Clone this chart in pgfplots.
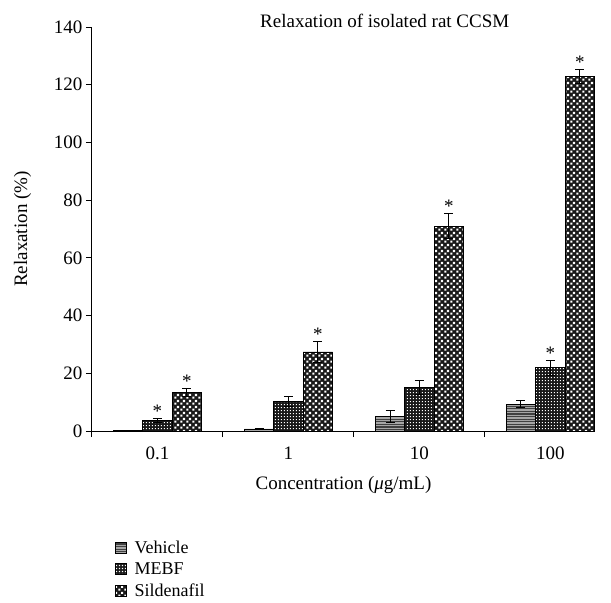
\documentclass[border=0pt]{standalone}
\usepackage{fontspec}
\setmainfont{Liberation Serif}
\usepackage{pgfplots}
\pgfplotsset{compat=1.18}
\usetikzlibrary{patterns}

\pgfdeclarepatternformonly{vstripes}{\pgfpoint{-1bp}{0bp}}{\pgfpoint{1bp}{2.6bp}}{\pgfpoint{2bp}{2.6bp}}{%
  \pgfsetlinewidth{1.2bp}\pgfpathmoveto{\pgfpoint{-1.1bp}{1.3bp}}\pgfpathlineto{\pgfpoint{1.1bp}{1.3bp}}\pgfusepath{stroke}}
\pgfdeclarepatternformonly{mebfdots}{\pgfpointorigin}{\pgfpoint{3.4bp}{3.4bp}}{\pgfpoint{3.4bp}{3.4bp}}{%
  \pgfpathrectangle{\pgfpoint{1bp}{1bp}}{\pgfpoint{1.3bp}{1.3bp}}\pgfusepath{fill}}
\pgfdeclarepatternformonly{sildchk}{\pgfpointorigin}{\pgfpoint{5.6bp}{5.6bp}}{\pgfpoint{5.6bp}{5.6bp}}{%
  \pgfpathrectangle{\pgfpoint{0.4bp}{0.4bp}}{\pgfpoint{2.2bp}{2.2bp}}%
  \pgfpathrectangle{\pgfpoint{3.2bp}{3.2bp}}{\pgfpoint{2.2bp}{2.2bp}}\pgfusepath{fill}}

\begin{document}
\begin{tikzpicture}
\begin{axis}[
  scale only axis,
  width=503bp, height=404bp,
  font=\fontsize{19bp}{22bp}\selectfont,
  /pgf/number format/assume math mode=true,
  axis lines*=left,
  axis line style={-, line width=1bp},
  xmin=-0.5, xmax=3.34,
  ymin=0, ymax=140,
  ytick={0,20,...,140},
  xtick={0,1,2,3},
  xticklabels={0.1,1,10,100},
  minor xtick={-0.5,0.5,1.5,2.5},
  major x tick style={draw=none},
  tick align=outside,
  tick style={black, line width=1bp},
  major tick length=6bp,
  minor tick length=6bp,
  xticklabel style={yshift=-6bp},
  xlabel={Concentration (\textit{μ}g/mL)},
  ylabel={Relaxation (\%)},
  xlabel style={yshift=-10bp},
  ylabel style={yshift=16bp},
  bar width=0.225,
  error bars/error bar style={black, line width=1bp},
  error bars/error mark options={rotate=90, mark size=4.5bp, line width=1bp},
  legend style={at={(0.04,-0.262)}, anchor=north west, draw=none, fill=none,
    row sep=4bp, font=\fontsize{18bp}{20bp}\selectfont},
  legend cell align=left,
  legend image code/.code={\draw[#1, draw=black, line width=0.6bp] (0bp,-5bp) rectangle (11bp,6bp);
    \pgfpathmoveto{\pgfpoint{17bp}{0bp}}\pgfusepath{discard}},
  clip=false,
]
\addplot[ybar, bar shift=0, draw=black, line width=0.8bp, fill=black!35,
  postaction={pattern=vstripes, pattern color=black!75},
  error bars/.cd, y dir=both, y explicit]
  coordinates {(-0.225,0.15) +- (0,0) (0.775,0.7) +- (0,0.3) (1.775,5.0) +- (0,2.2) (2.775,9.2) +- (0,1.2)};
\addlegendentry{Vehicle}
\addplot[ybar, bar shift=0, draw=black, line width=0.8bp, fill=black!90,
  postaction={pattern=mebfdots, pattern color=white},
  error bars/.cd, y dir=both, y explicit]
  coordinates {(0,3.7) +- (0,0.6) (1,10.2) +- (0,1.6) (2,15.1) +- (0,2.3) (3,21.9) +- (0,2.6)};
\addlegendentry{MEBF}
\addplot[ybar, bar shift=0, draw=black, line width=0.8bp, fill=black!90,
  postaction={pattern=sildchk, pattern color=white},
  error bars/.cd, y dir=both, y explicit]
  coordinates {(0.225,13.5) +- (0,1.4) (1.225,27.4) +- (0,3.5) (2.225,71.0) +- (0,4.4) (3.225,122.8) +- (0,2.3)};
\addlegendentry{Sildenafil}
% significance marks
\addplot[draw=none, mark=none, forget plot, nodes near coords={*},
  every node near coord/.append style={anchor=base, inner sep=0pt, yshift=1bp, font=\fontsize{19bp}{22bp}\selectfont}]
  coordinates {(0,4.3) (0.225,14.9) (1.225,30.9) (2.225,75.4) (3,24.5) (3.225,125.1)};
\node[anchor=base, font=\fontsize{19bp}{22bp}\selectfont] at (rel axis cs:0.582,1) {Relaxation of isolated rat CCSM};
\end{axis}
\path ([xshift=-92bp, yshift=-166bp] current axis.south west) rectangle ([xshift=16bp, yshift=27bp] current axis.north east);
\end{tikzpicture}
\end{document}
